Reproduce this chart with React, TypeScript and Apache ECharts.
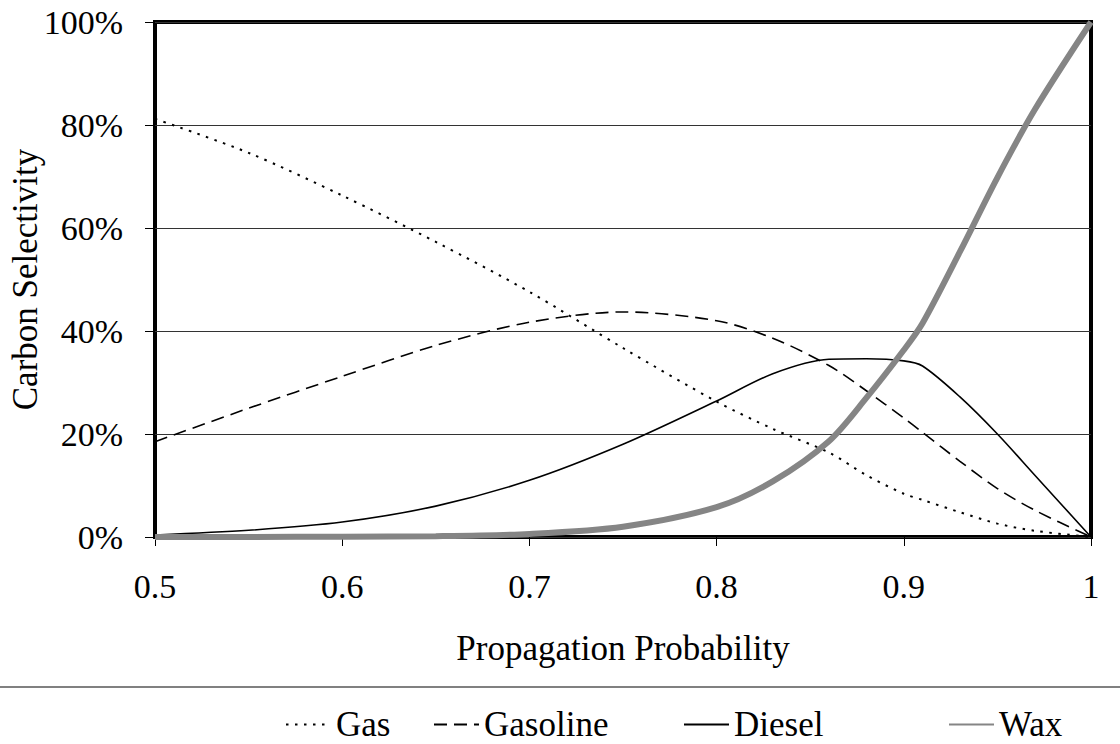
import React, { useEffect, useRef } from "react";
import * as echarts from "echarts";

const probability = [0.5, 0.55, 0.6, 0.65, 0.7, 0.75, 0.8, 0.83, 0.86, 0.88, 0.9, 0.91, 0.93, 0.95, 0.97, 1.0];
const gas = [81.2, 74.6, 66.3, 57.3, 47.6, 36.7, 26.3, 21.0, 16.4, 12.0, 8.4, 7.2, 4.8, 2.6, 1.2, 0];
const gasoline = [18.5, 25.0, 31.2, 37.2, 41.7, 43.7, 42.0, 38.6, 33.3, 28.4, 23.1, 20.3, 14.7, 9.4, 5.2, 0];
const diesel = [0.4, 1.3, 2.9, 6.0, 11.0, 18.0, 26.4, 31.7, 34.5, 34.6, 34.2, 33.2, 27.2, 20.0, 12.0, 0];
const wax = [0, 0.02, 0.05, 0.15, 0.6, 2.0, 5.8, 10.8, 18.6, 27.0, 36.3, 41.5, 55.4, 69.8, 83.0, 100];

const seriesNames = ["Gas", "Gasoline", "Diesel", "Wax"];
const yTicks = [0, 20, 40, 60, 80, 100];

const FONT = "Liberation Serif";

const pairs = (ys: number[]) => probability.map((x, i) => [x, ys[i]]);

export default function App() {
  const ref = useRef<HTMLDivElement>(null);
  useEffect(() => {
    if (!ref.current) return;
    const chart = echarts.init(ref.current, null, { renderer: "svg" });
    const legendLefts = [280, 428, 678, 943];
    const option: any = {
      animation: false,
      backgroundColor: "#fff",
      textStyle: { fontFamily: FONT, color: "#000" },
      grid: {
        left: 155,
        right: 29,
        top: 22,
        bottom: 207,
        containLabel: false,
        outerBoundsMode: "none",
        show: true,
        borderColor: "#000",
        borderWidth: 4,
        backgroundColor: "transparent",
      },
      xAxis: {
        type: "value",
        min: 0.5,
        max: 1,
        interval: 0.1,
        name: "Propagation Probability",
        nameLocation: "middle",
        nameGap: 94,
        nameMoveOverlap: false,
        nameTextStyle: { fontSize: 35, fontFamily: FONT, color: "#000" },
        axisLine: { show: false },
        axisTick: { show: true, length: 9, lineStyle: { color: "#000", width: 1 } },
        axisLabel: {
          fontSize: 34,
          fontFamily: FONT,
          color: "#000",
          margin: 32,
          formatter: (v: number) => String(Number(v.toFixed(1))),
        },
        splitLine: { show: false },
      },
      yAxis: {
        type: "value",
        min: yTicks[0],
        max: yTicks[yTicks.length - 1],
        interval: 20,
        name: "Carbon Selectivity",
        nameLocation: "middle",
        nameGap: 112,
        nameMoveOverlap: false,
        nameTextStyle: { fontSize: 35, fontFamily: FONT, color: "#000" },
        axisLine: { show: false },
        axisTick: { show: true, length: 10, lineStyle: { color: "#000", width: 1 } },
        axisLabel: {
          fontSize: 34,
          fontFamily: FONT,
          color: "#000",
          margin: 32,
          formatter: "{value}%",
        },
        splitLine: { show: true, lineStyle: { color: "#333", width: 1 } },
      },
      legend: seriesNames.map((n, i) => ({
        data: [n],
        left: legendLefts[i],
        top: 702,
        itemWidth: 45,
        itemHeight: 12,
        itemStyle: { opacity: 0 },
        textStyle: { fontSize: 35, fontFamily: FONT, color: "#000" },
        selectedMode: false,
      })),
      graphic: [
        {
          type: "line",
          shape: { x1: 0, y1: 687, x2: 1120, y2: 687 },
          style: { stroke: "#808080", lineWidth: 2 },
        },
      ],
      series: [
        {
          name: "Gas",
          type: "line",
          data: pairs(gas),
          symbol: "none",
          smooth: 0.3,
          lineStyle: { color: "#000", width: 2, type: [2.5, 6.5] },
          itemStyle: { color: "#000" },
          z: 3,
        },
        {
          name: "Gasoline",
          type: "line",
          data: pairs(gasoline),
          symbol: "none",
          smooth: 0.3,
          lineStyle: { color: "#000", width: 1.6, type: [13, 7] },
          itemStyle: { color: "#000" },
          z: 3,
        },
        {
          name: "Diesel",
          type: "line",
          data: pairs(diesel),
          symbol: "none",
          smooth: 0.3,
          lineStyle: { color: "#000", width: 1.6 },
          itemStyle: { color: "#000" },
          z: 3,
        },
        {
          name: "Wax",
          type: "line",
          data: pairs(wax),
          symbol: "none",
          smooth: 0.3,
          lineStyle: { color: "#858585", width: 6 },
          itemStyle: { color: "#858585" },
          z: 4,
        },
      ],
    };
    chart.setOption(option);
    return () => chart.dispose();
  }, []);
  return (
    <div
      ref={ref}
      style={{ position: "absolute", left: 0, top: 0, width: 1120, height: 744 }}
    />
  );
}
